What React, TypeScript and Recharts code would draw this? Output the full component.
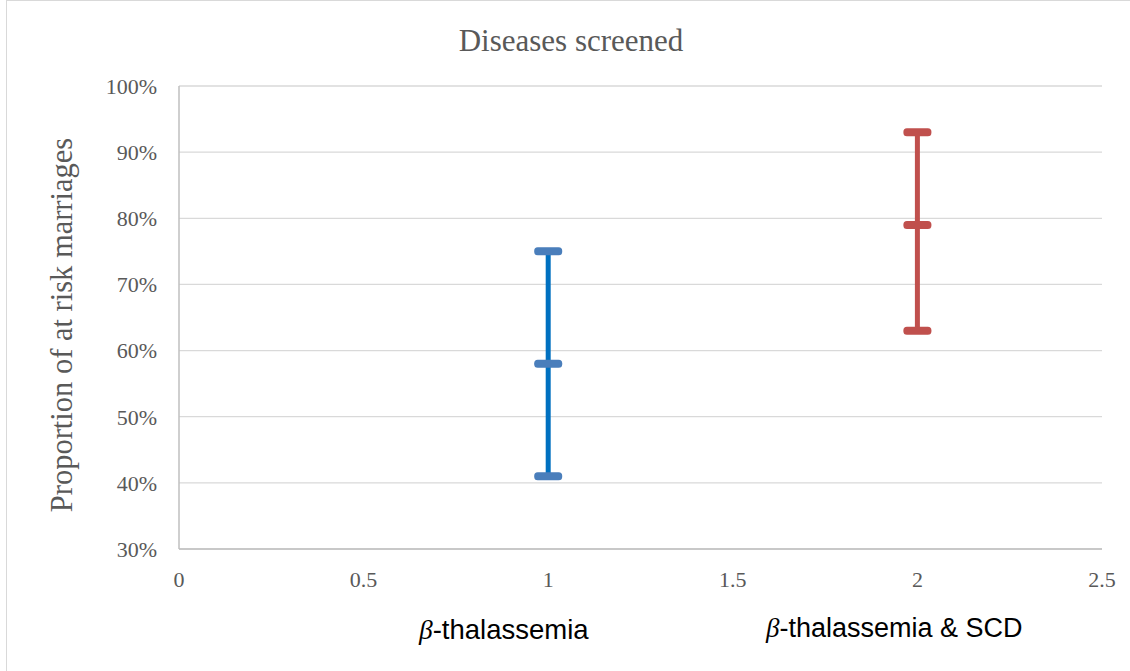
import React from 'react'
import {
  ScatterChart,
  Scatter,
  XAxis,
  YAxis,
  CartesianGrid,
} from 'recharts'

// low / mid / high proportion for each disease group
const thalX = [1, 1, 1]
const thalValues = [0.41, 0.58, 0.75]
const scdX = [2, 2, 2]
const scdValues = [0.63, 0.79, 0.93]

const xTicks = [0, 0.5, 1, 1.5, 2, 2.5]
const yTicks = [0.3, 0.4, 0.5, 0.6, 0.7, 0.8, 0.9, 1.0]
const categoryLabels = ['-thalassemia', '-thalassemia & SCD']

const thalData = thalX.map((x, i) => ({ x, y: thalValues[i] }))
const scdData = scdX.map((x, i) => ({ x, y: scdValues[i] }))

const serif = '"Liberation Serif", "Times New Roman", serif'
const sans = '"Liberation Sans", Arial, sans-serif'

const makeCap = (fill: string) => (props: any) => {
  const { cx, cy } = props
  return <rect x={cx - 14} y={cy - 4} width={28} height={8} rx={3.5} ry={3.5} fill={fill} />
}

export default function App() {
  return (
    <div style={{ position: 'absolute', left: 0, top: 0, width: 1130, height: 671, background: '#fff' }}>
      <div
        style={{
          position: 'absolute',
          left: 6,
          top: 0,
          width: 1124,
          height: 671,
          borderLeft: '1px solid #d9d9d9',
          borderTop: '1px solid #d9d9d9',
          boxSizing: 'border-box',
        }}
      />
      <ScatterChart width={1130} height={671} margin={{ top: 86, right: 28, bottom: 0, left: 0 }}>
        <CartesianGrid horizontal vertical={false} stroke="#d9d9d9" strokeWidth={1.3} />
        <XAxis
          type="number"
          dataKey="x"
          domain={[0, 2.5]}
          ticks={xTicks}
          tickLine={false}
          axisLine={{ stroke: '#bfbfbf', strokeWidth: 1.5 }}
          tick={{ fill: '#595959', fontSize: 22, fontFamily: serif }}
          tickMargin={16}
          height={122}
          tickFormatter={(v: number) => String(v)}
        />
        <YAxis
          type="number"
          dataKey="y"
          domain={[0.3, 1]}
          ticks={yTicks}
          width={179}
          tickLine={false}
          axisLine={{ stroke: '#bfbfbf', strokeWidth: 1.5 }}
          tick={{ fill: '#595959', fontSize: 22, fontFamily: serif }}
          tickMargin={16}
          tickFormatter={(v: number) => `${Math.round(v * 100)}%`}
        />
        <Scatter
          data={thalData}
          line={{ stroke: '#0070C0', strokeWidth: 5 }}
          shape={makeCap('#4A7EBB')}
          isAnimationActive={false}
        />
        <Scatter
          data={scdData}
          line={{ stroke: '#C0504D', strokeWidth: 5 }}
          shape={makeCap('#C0504D')}
          isAnimationActive={false}
        />
      </ScatterChart>
      <svg
        width={1130}
        height={671}
        style={{ position: 'absolute', left: 0, top: 0, pointerEvents: 'none' }}
      >
        <text x={571} y={51} textAnchor="middle" fill="#595959" fontSize={31} fontFamily={serif}>
          Diseases screened
        </text>
        <text
          x={0}
          y={0}
          transform="translate(72, 325) rotate(-90)"
          textAnchor="middle"
          fill="#595959"
          fontSize={30.5}
          fontFamily={serif}
        >
          Proportion of at risk marriages
        </text>
        <text x={419} y={639} fontSize={27.5} fontFamily={sans} fill="#000">
          <tspan fontStyle="italic" fontFamily={serif}>β</tspan>
          <tspan>{categoryLabels[0]}</tspan>
        </text>
        <text x={766} y={637} fontSize={27} fontFamily={sans} fill="#000">
          <tspan fontStyle="italic" fontFamily={serif}>β</tspan>
          <tspan>{categoryLabels[1]}</tspan>
        </text>
      </svg>
    </div>
  )
}
